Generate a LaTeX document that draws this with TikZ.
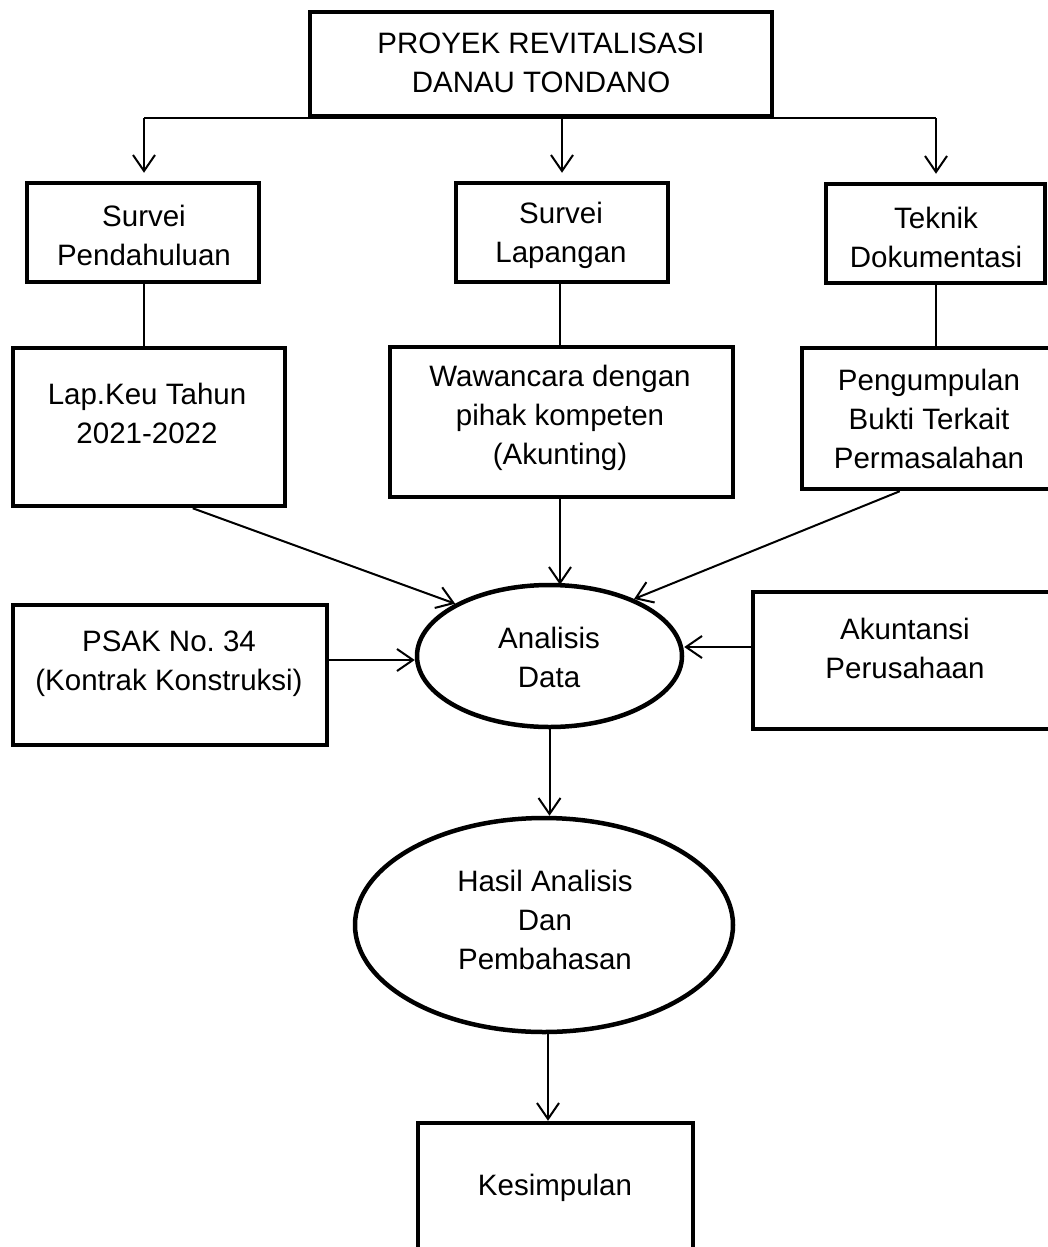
\documentclass[tikz,border=0pt]{standalone}
\usepackage{fontspec}
\setmainfont{Liberation Sans}
\usetikzlibrary{arrows.meta,shapes.geometric,calc}
\frenchspacing
\tikzset{
  box/.style={draw, line width=4.5pt, rectangle, inner sep=0pt},
  oval/.style={draw, line width=4.5pt, ellipse, inner sep=0pt},
  txt/.style={align=center, inner sep=0pt, font=\fontsize{29.5}{39}\selectfont},
  conn/.style={line width=2pt},
  arr/.style={line width=2pt, -{Straight Barb[length=16pt,width=22pt,line width=2pt]}}
}
\begin{document}
\begin{tikzpicture}[x=1pt,y=-1pt]
\useasboundingbox (0,0) rectangle (1048,1247);
\clip (0,0) rectangle (1048,1247);
% shapes
\node[box, minimum width=462pt, minimum height=104pt] (top) at (541,64) {};
\node[box, minimum width=232pt, minimum height=99pt] (sp) at (143,232.5) {};
\node[box, minimum width=212pt, minimum height=99pt] (sl) at (562,232.5) {};
\node[box, minimum width=219pt, minimum height=99pt] (td) at (935.5,233.5) {};
\node[box, minimum width=272pt, minimum height=158pt] (lk) at (149,427) {};
\node[box, minimum width=343pt, minimum height=150pt] (ww) at (561.5,422) {};
\node[box, minimum width=254pt, minimum height=141pt] (pg) at (929,418.5) {};
\node[box, minimum width=314pt, minimum height=140pt] (ps) at (170,675) {};
\node[box, minimum width=304pt, minimum height=137pt] (ak) at (905,660.5) {};
\node[oval, minimum width=265pt, minimum height=142pt] (an) at (549.5,656) {};
\node[oval, minimum width=378pt, minimum height=214pt] (hs) at (544,925) {};
\node[box, minimum width=275pt, minimum height=170pt] (ks) at (555.5,1208) {};
% texts
\node[txt] (topT) at (541,63) {PROYEK REVITALISASI\\DANAU TONDANO};
\node[txt] (spT) at (144,235) {Survei\\Pendahuluan};
\node[txt] (slT) at (561,235) {Survei\\Lapangan};
\node[txt] (tdT) at (936,237) {Teknik\\Dokumentasi};
\node[txt] (lkT) at (147,413) {Lap.Keu Tahun\\2021-2022};
\node[txt] (wwT) at (560,418) {Wawancara dengan\\pihak kompeten\\(Akunting)};
\node[txt] (pgT) at (929,419) {Pengumpulan\\Bukti Terkait\\Permasalahan};
\node[txt] (psT) at (169,664) {PSAK No. 34\\(Kontrak Konstruksi)};
\node[txt] (akT) at (905,648) {Akuntansi\\Perusahaan};
\node[txt] (anT) at (549,657) {Analisis\\Data};
\node[txt] (hsT) at (545,920) {Hasil Analisis\\Dan\\Pembahasan};
\node[txt] (ksT) at (555,1188) {Kesimpulan};
% connectors: top to surveys
\coordinate (bl) at ($(top.south)+(-397,0)$);
\coordinate (br) at ($(top.south)+(395,0)$);
\draw[conn] (bl) -- (br);
\draw[arr, shorten >=8pt] (bl) -- (bl |- sp.north);
\draw[arr, shorten >=8pt] (top.south -| sl.north) -- (sl.north);
\draw[arr, shorten >=8pt] (br) -- (br |- td.north);
% surveys to second row
\draw[conn] ($(sp.south)+(1,0)$) -- ($(sp.south |- lk.north)+(1,0)$);
\draw[conn] ($(sl.south)+(-2,0)$) -- ($(sl.south |- ww.north)+(-2,0)$);
\draw[conn] (td.south) -- (td.south |- pg.north);
% second row to Analisis
\coordinate (lkOut) at ($(lk.south west)+(182,0)$);
\draw[arr] (lkOut) -- (an.151);
\draw[arr] ($(ww.south)+(-1.5,0)$) -- ($(ww.south |- an.north)+(-1.5,2)$);
\coordinate (pgOut) at ($(pg.south west)+(100,0)$);
\draw[arr] (pgOut) -- (an.34);
% side inputs
\coordinate (anL) at ($(an.west)+(0,4)$);
\coordinate (anR) at ($(an.east)+(0,-9)$);
\draw[arr] (ps.east |- anL) -- (anL);
\draw[arr] (ak.west |- anR) -- (anR);
% downwards
\draw[arr] (an.south) -- (an.south |- hs.north);
\draw[arr] ($(hs.south)+(4,0)$) -- ($(hs.south |- ks.north)+(4,0)$);
\end{tikzpicture}
\end{document}
